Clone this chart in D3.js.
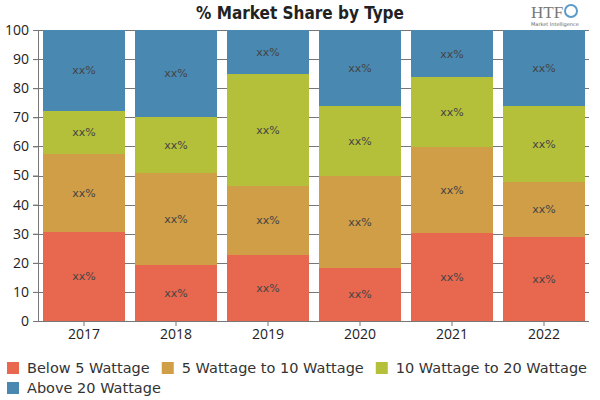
<!DOCTYPE html>
<html>
<head>
<meta charset="utf-8">
<script src="https://cdn.jsdelivr.net/npm/d3@7"></script>
<style>
  body { margin: 0; background: #fff; }
  svg { display: block; }
</style>
</head>
<body>
<main></main>
<script>
const years = ["2017", "2018", "2019", "2020", "2021", "2022"];
const seriesNames = ["Below 5 Wattage", "5 Wattage to 10 Wattage", "10 Wattage to 20 Wattage", "Above 20 Wattage"];
const below5 = [30.7, 19.2, 22.7, 18.3, 30.3, 29.0];
const w5to10 = [26.7, 31.8, 23.7, 31.5, 29.6, 18.9];
const w10to20 = [14.9, 19.2, 38.5, 24.1, 23.8, 26.0];
const above20 = [27.7, 29.8, 15.1, 26.1, 16.3, 26.1];
const yTicks = [0, 10, 20, 30, 40, 50, 60, 70, 80, 90, 100];
const colors = ["#e8684f", "#cf9e47", "#b5c03a", "#4989b1"];

const svgSize = { width: 600, height: 400 };
const plot = { left: 38, right: 590, top: 30, bottom: 321 };

const svg = d3.select("main").append("svg")
    .attr("width", svgSize.width)
    .attr("height", svgSize.height);

// title
svg.append("text")
    .attr("x", 300).attr("y", 19)
    .attr("text-anchor", "middle")
    .style("font-family", "'Liberation Sans Narrow', 'DejaVu Sans Condensed', sans-serif")
    .style("font-weight", "bold")
    .style("font-size", "17px")
    .style("fill", "#222")
    .text("% Market Share by Type");

// logo-ish mark
const logo = svg.append("g").attr("transform", "translate(531,0)");
logo.append("text").attr("x", 0).attr("y", 18)
    .style("font-family", "'Liberation Serif', serif")
    .style("font-size", "17px").style("fill", "#777")
    .text("HTF");
logo.append("circle").attr("cx", 40).attr("cy", 11).attr("r", 6)
    .style("fill", "none").style("stroke", "#5a9bc8").style("stroke-width", 2);
logo.append("text").attr("x", 0).attr("y", 26)
    .style("font-family", "'DejaVu Sans', sans-serif")
    .style("font-size", "5px").style("fill", "#666")
    .text("Market Intelligence");

const data = years.map((y, i) => ({
    year: y,
    [seriesNames[0]]: below5[i],
    [seriesNames[1]]: w5to10[i],
    [seriesNames[2]]: w10to20[i],
    [seriesNames[3]]: above20[i]
}));

const stacked = d3.stack().keys(seriesNames)(data);

const xScale = d3.scaleBand()
    .domain(years)
    .range([plot.left, plot.right])
    .paddingInner(0.11)
    .paddingOuter(0.055);

const yScale = d3.scaleLinear()
    .domain([0, 100])
    .range([plot.bottom, plot.top]);

// gridlines
svg.append("g")
    .selectAll("line")
    .data(yTicks.slice(1))
    .enter().append("line")
    .attr("x1", plot.left - 5).attr("x2", plot.right - 1)
    .attr("y1", d => Math.round(yScale(d)) + 0.5)
    .attr("y2", d => Math.round(yScale(d)) + 0.5)
    .style("stroke", "#777").style("stroke-width", 1);

// bars
const layers = svg.append("g")
    .selectAll("g")
    .data(stacked)
    .enter().append("g")
    .style("fill", (d, i) => colors[i]);

layers.selectAll("rect")
    .data(d => d)
    .enter().append("rect")
    .attr("x", d => Math.round(xScale(d.data.year)))
    .attr("y", d => Math.round(yScale(d[1])))
    .attr("width", Math.round(xScale.bandwidth()))
    .attr("height", d => Math.round(yScale(d[0])) - Math.round(yScale(d[1])));

// labels
layers.selectAll("text")
    .data(d => d)
    .enter().append("text")
    .attr("x", d => xScale(d.data.year) + xScale.bandwidth() / 2)
    .attr("y", d => (yScale(d[0]) + yScale(d[1])) / 2 + 4)
    .attr("text-anchor", "middle")
    .style("fill", "#444")
    .style("font-family", "'DejaVu Sans', sans-serif")
    .style("font-size", "11px")
    .text("xx%");

// axes
const yAxis = svg.append("g")
    .attr("transform", `translate(${plot.left},0)`)
    .call(d3.axisLeft(yScale).tickValues(yTicks).tickSize(5).tickPadding(4).tickSizeOuter(0));

const xAxis = svg.append("g")
    .attr("transform", `translate(0,${plot.bottom})`)
    .call(d3.axisBottom(xScale).tickSize(5).tickPadding(3).tickSizeOuter(0));

[yAxis, xAxis].forEach(ax => {
    ax.selectAll("path, line").style("stroke", "#777");
    ax.selectAll("text")
        .style("font-family", "'Open Sans', 'DejaVu Sans', sans-serif")
        .style("font-size", "14px")
        .style("fill", "#222");
});
xAxis.select(".domain").attr("d", `M${plot.left - 5},0.5H${plot.right - 1}`);

// legend
const legend = svg.append("g");
let lx = 7, ly = 362;
seriesNames.forEach((name, i) => {
    const item = legend.append("g");
    item.append("rect")
        .attr("width", 12).attr("height", 12)
        .style("fill", colors[i]);
    const t = item.append("text")
        .attr("x", 20).attr("y", 11)
        .style("font-family", "'DejaVu Sans', sans-serif")
        .style("font-size", "14.5px")
        .style("fill", "#333")
        .text(name);
    const w = 20 + t.node().getComputedTextLength() + 12;
    if (lx + w - 12 > svgSize.width - 2) { lx = 7; ly += 20; }
    item.attr("transform", `translate(${lx},${ly})`);
    lx += w;
});
</script>
</body>
</html>
